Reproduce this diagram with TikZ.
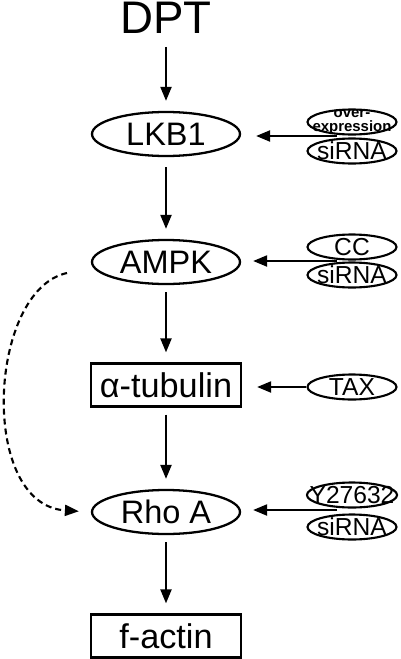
\documentclass[tikz,border=0pt]{standalone}
\usepackage{fontspec}
\setmainfont{Liberation Sans}
\usetikzlibrary{arrows.meta,shapes.geometric}

\tikzset{
  mainell/.style={draw,ellipse,line width=1.3pt,minimum width=2.96cm,minimum height=0.88cm,inner sep=-6pt,font=\fontsize{18.5}{18.5}\selectfont},
  mainbox/.style={draw,rectangle,line width=1.3pt,minimum width=3cm,minimum height=0.86cm,inner sep=0pt,font=\fontsize{19.5}{19.5}\selectfont},
  sideell/.style={draw,ellipse,line width=1.2pt,minimum width=1.78cm,minimum height=0.5cm,inner sep=-6pt,font=\fontsize{14}{14}\selectfont},
  flow/.style={line width=1.2pt,-{Triangle[length=0.28cm,width=0.22cm]}},
}

\begin{document}
\begin{tikzpicture}[x=0.02cm,y=-0.02cm]
    \useasboundingbox (0,0) rectangle (400,659);
    % main pathway
    \node (DPT) at (166,18) {\fontsize{26}{26}\selectfont DPT};
    \node[mainell] (LKB1) at (166,134) {LKB1};
    \node[mainell] (AMPK) at (166,262) {AMPK};
    \node[mainbox] (tubulin) at (166,385) {α-tubulin};
    \node[mainell] (RhoA) at (166,512) {Rho A};
    \node[mainbox] (factin) at (166,636) {f-actin};
    \draw[flow,shorten <=0.14cm,shorten >=0.2cm] (DPT) -- (LKB1);
    \draw[flow,shorten <=0.2cm,shorten >=0.2cm] (LKB1) -- (AMPK);
    \draw[flow,shorten <=0.14cm,shorten >=0.2cm] (AMPK) -- (tubulin);
    \draw[flow,shorten <=0.14cm,shorten >=0.2cm] (tubulin) -- (RhoA);
    \draw[flow,shorten <=0.14cm,shorten >=0.2cm] (RhoA) -- (factin);
    % treatments
    \node[sideell,font=\bfseries\fontsize{8.5}{8.5}\selectfont,align=center] (over) at (352,122) {over-\\expression};
    \node[sideell] (siLKB) at (352,151) {siRNA};
    \node[sideell] (CC) at (352,247) {CC};
    \node[sideell] (siAMPK) at (352,275) {siRNA};
    \node[sideell] (TAX) at (352,387) {TAX};
    \node[sideell] (Y27632) at (352,495) {Y27632};
    \node[sideell] (siRho) at (352,527) {siRNA};
    \coordinate (inLKB) at (337,136);
    \coordinate (inAMPK) at (337,261);
    \coordinate (inRho) at (337,510);
    \draw[flow,shorten >=0.3cm] (inLKB) -- (inLKB -| LKB1.east);
    \draw[flow,shorten >=0.24cm] (inAMPK) -- (inAMPK -| AMPK.east);
    \draw[flow,shorten >=0.3cm] (TAX.west) -- (TAX.west -| tubulin.east);
    \draw[flow,shorten >=0.24cm] (inRho) -- (inRho -| RhoA.east);
    % dashed bypass
    \coordinate (bypass) at (67,273);
    \draw[flow,dash pattern=on 0.12cm off 0.08cm,shorten >=0.24cm] (bypass) .. controls (-12,290) and (-22,505) .. (RhoA.west);
\end{tikzpicture}
\end{document}
